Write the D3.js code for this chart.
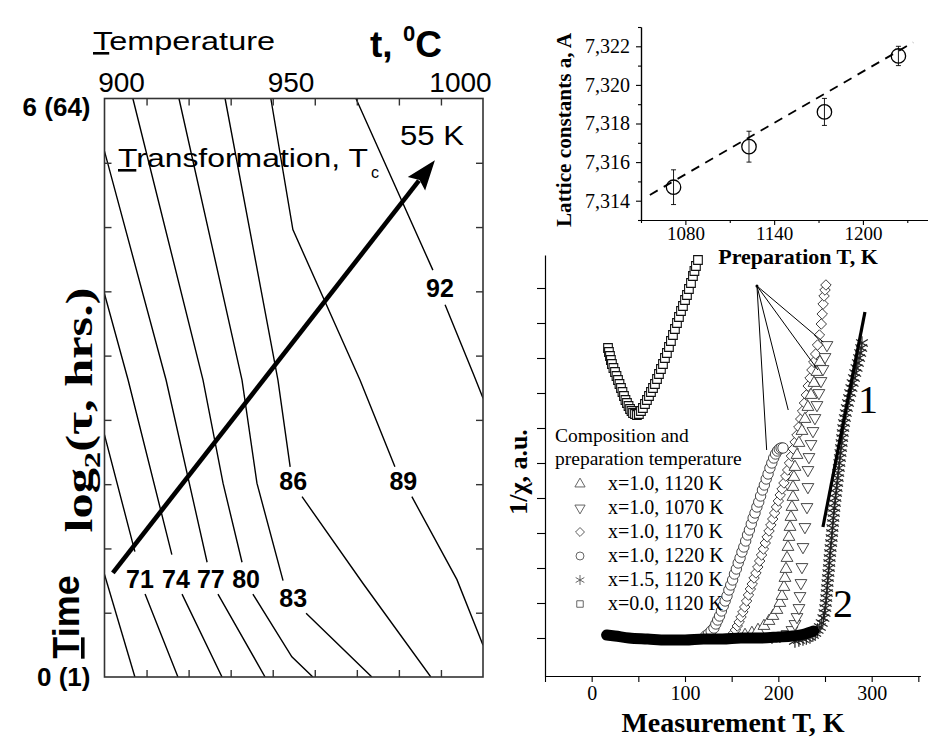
<!DOCTYPE html>
<html>
<head>
<meta charset="utf-8">
<script src="https://cdn.jsdelivr.net/npm/d3@7/dist/d3.min.js"></script>
<style>
html,body{margin:0;padding:0;background:#fff;}
svg{display:block;}
</style>
</head>
<body>
<svg id="chart" width="928" height="742"></svg>
<script>
// ================= DATA =================
// ---- Left panel: Tc contour lines (temperature, °C ; log2 of time in hours) ----
const tempTicks = [900, 950, 1000];
const timeTicks = [0, 6];
const timeTickLabels = ["0 (1)", "6 (64)"];
const frameTicks = [1, 2, 3, 4, 5, 6, 7, 8];
const contourLabels = [71, 74, 77, 80, 83, 86, 89, 92];
const contourLabelT = [905.6, 916.2, 926.5, 936.9, 950.8, 950.8, 983.3, 994.1];
const contourLabelL = [1.02, 1.02, 1.02, 1.02, 0.82, 2.03, 2.03, 4.03];
const contour68 = [[895.0,1.08],[904.1,0]];
const contour71 = [[895.0,2.53],[904.1,1.30],null,[907.1,0.86],[916.8,0]];
const contour74 = [[895.0,3.99],[902.1,3.08],[915.0,1.27],null,[918.0,0.86],[929.8,0]];
const contour77 = [[895.0,5.47],[913.3,3.08],[925.4,1.19],null,[928.6,0.86],[942.5,0]];
const contour80 = [[903.5,6],[924.2,3.08],[930.1,2.01],[935.7,1.19],null,[938.9,0.86],[950.4,0.21],[956.6,0]];
const contour83 = [[917.1,6],[935.7,3.08],[940.1,2.01],[947.8,1.0],null,[954.6,0.66],[974.0,0]];
const contour86 = [[930.7,6],[946.3,3.08],[949.9,2.18],null,[953.4,1.87],[971.4,0.97],[991.4,0]];
const contour89 = [[944.2,6],[950.7,4.64],[970.5,3.08],[980.8,2.18],null,[985.8,1.87],[999.1,1.01],[1006.8,0.33]];
const contour92 = [[969.3,6],[992.0,4.22],null,[995.6,3.86],[1004.1,3.13],[1006.8,2.89]];
const arrowStart = [897.6, 1.08];
const arrowEnd = [992.6, 5.36];

// ---- Top-right panel: lattice constant vs preparation temperature ----
const prepTicks = [1080, 1140, 1200];
const prepMinor = [1050, 1110, 1170, 1230];
const latticeTicks = [7.314, 7.316, 7.318, 7.320, 7.322];
const latticeMinor = [7.313, 7.315, 7.317, 7.319, 7.321, 7.323];
const prepT = [1072, 1123, 1174, 1224];
const latticeA = [7.3147, 7.3168, 7.3186, 7.3215];
const latticeErr = [0.0009, 0.0008, 0.0007, 0.0005];
const fitT = [1056, 1234];
const fitA = [7.3143, 7.3222];

// ---- Bottom-right panel: 1/chi (a.u.) vs measurement temperature (K) ----
const measTicks = [0, 100, 200, 300];
const measMinor = [-50, 50, 150, 250, 350];
const chiTicks = [38, 73, 108, 143, 178, 213, 248, 283, 318, 353, 388];
const legendLabels = ["x=1.0, 1120 K", "x=1.0, 1070 K", "x=1.0, 1170 K", "x=1.0, 1220 K", "x=1.5, 1120 K", "x=0.0, 1120 K"];
const seriesUp1120 = [[164.3,41],[171.7,43],[178.2,46],[184.6,50],[190.0,55],[194.2,60],[198.5,66],[201.7,73],[203.9,80],[206.0,89],[207.1,98],[208.2,107],[209.3,118],[210.3,129],[211.4,139],[212.5,149],[213.5,159],[214.6,169],[215.7,179],[215.7,189],[216.7,199],[217.8,209],[220.0,221],[222.1,233],[225.3,245],[228.5,257],[231.7,269],[235.0,281],[238.2,293],[241.4,304],[244.6,314]];
const seriesDown1070 = [[193.2,39],[201.7,40],[209.3,42],[214.6,46],[217.8,52],[220.0,59],[222.1,68],[223.2,80],[224.2,93],[225.3,109],[226.4,129],[228.5,149],[230.7,169],[231.7,189],[231.7,206],[232.8,219],[235.0,232],[237.1,245],[239.2,258],[241.4,271],[243.5,283],[245.7,295],[247.8,307],[250.0,319],[252.1,331]];
const seriesDiamond1170 = [[150,40],[152,43],[154,46],[156,50],[158,54],[160,59],[162,64],[164,69],[166,75],[168,81],[170,87],[172,92],[174,98],[176,103],[178,109],[180,115],[182,121],[184,127],[186,133],[188,139],[190,145],[192,151],[194,157],[196,163],[198,169],[200,175],[202,181],[204,187],[206,193],[208,200],[210,206],[212,213],[214,220],[216,227],[218,234],[220,241],[222,249],[224,257],[226,265],[228,273],[230,281],[232,290],[234,298],[236,306],[238,314],[240,322],[242,331],[244,341],[246,352],[247,362],[248,372],[249,380],[250,386],[251,391]];
const seriesCircle1220 = [[122,40],[125,42],[128,45],[131,48],[133,52],[135,56],[137,60],[139,65],[141,70],[143,75],[145,80],[147,86],[149,91],[151,96],[153,102],[155,107],[157,113],[159,118],[161,124],[163,129],[165,135],[167,141],[169,146],[171,152],[173,158],[175,163],[177,169],[179,174],[181,180],[183,186],[185,191],[187,197],[189,202],[191,208],[193,213],[195,218],[197,222],[199,225],[201,227],[203,228],[205,228]];
const seriesStar1120 = [[217.8,35],[222,36],[226.4,37],[230,38],[233.9,39],[237,41],[239.5,43],[242,46],[244.5,49],[246.5,53],[248.3,58],[249.5,63],[250.3,68],[250.9,73],[251.4,78],[251.9,83],[252.3,88],[252.7,93],[253.2,98],[253.7,103],[254.2,108],[254.6,113],[255.0,118],[255.5,123],[256.0,128],[256.6,133],[257.1,138],[257.6,143],[258.0,148],[258.5,153],[259.0,158],[259.5,163],[260.0,168],[260.6,173],[261.2,178],[261.8,183],[262.4,188],[263.0,193],[263.6,198],[264.2,203],[264.8,208],[265.4,213],[266.0,218],[266.6,223],[267.2,228],[267.8,233],[268.4,238],[269.0,243],[269.6,248],[270.4,253],[271.3,258],[272.3,263],[273.4,268],[274.6,273],[275.8,278],[277.0,283],[278.3,288],[279.6,293],[281.0,298],[282.4,303],[283.8,308],[285.2,313],[286.5,318],[287.7,323],[288.8,328],[289.6,333]];
const seriesSquare0 = [[17.5,328],[18.5,324],[19.6,320],[20.6,316],[21.7,312],[23.3,308],[25.0,304],[26.6,300],[28.2,296],[29.8,292],[31.4,288],[33.0,284],[34.6,280],[36.2,276],[37.8,273],[39.5,270],[41.1,267],[42.7,265],[44.3,263],[46.4,262],[48.5,261],[50.6,262],[52.8,265],[54.9,268],[57.1,272],[59.2,276],[61.4,280],[63.5,284],[65.7,288],[67.8,292],[70.0,297],[72.1,302],[74.2,307],[76.4,312],[78.5,318],[80.6,323],[82.8,329],[84.9,335],[87.1,341],[89.2,347],[91.4,353],[93.5,359],[95.7,365],[97.8,370],[100.0,376],[102.1,381],[104.2,387],[106.4,393],[108.5,400],[110.1,405],[111.7,410],[113.9,416]];
const baselineBand = [[16,41],[25,40],[40,38],[60,37],[80,36],[100,36],[120,37],[140,37],[160,38],[180,38],[200,39],[215,40],[228,42],[238,45]];
const leaderOrigin = [177.1, 390];
const leaderEnds = [[248.1,334],[242.4,306],[210.6,266],[187.5,226]];
const fitLine1 = [[247.8,149],[292.8,364]];

// ================= DRAWING =================
const svg = d3.select("#chart");
const SANS = "'Liberation Sans', Arial, Helvetica, sans-serif";
const SERIF = "'Liberation Serif', 'Times New Roman', Times, serif";
const defs = svg.append("defs");
const intFmt = d3.format("d");

// ---------- LEFT PANEL ----------
const tX = d3.scaleLinear().domain([900, 1000]).range([121, 460]);
const lY = d3.scaleLinear().domain([0, 6]).range([677, 98.5]);
const fX = d3.scaleLinear().domain([0, 9]).range([104.5, 483]);
const fY = d3.scaleLinear().domain([0, 9]).range([677, 98.5]);

defs.append("clipPath").attr("id", "clipLeft").append("rect")
  .attr("x", fX(0)).attr("y", fY(9)).attr("width", fX(9) - fX(0)).attr("height", fY(0) - fY(9));

const L = svg.append("g");
const cLine = d3.line().defined(d => d !== null).x(d => tX(d[0])).y(d => lY(d[1]));
[contour68, contour71, contour74, contour77, contour80, contour83, contour86, contour89, contour92].forEach(c => {
  L.append("path").attr("d", cLine(c)).attr("fill", "none").attr("stroke", "#000")
    .attr("stroke-width", 1.4).attr("clip-path", "url(#clipLeft)");
});

L.append("rect").attr("x", fX(0)).attr("y", fY(9)).attr("width", fX(9) - fX(0)).attr("height", fY(0) - fY(9))
  .attr("fill", "none").attr("stroke", "#333").attr("stroke-width", 1.6);

const tickStyle = g => { g.select(".domain").remove(); g.selectAll("line").attr("stroke", "#333").attr("stroke-width", 1.4); };
L.append("g").attr("transform", `translate(0,${fY(9)})`).call(d3.axisTop(fX).tickValues(frameTicks).tickSize(-7).tickFormat(() => "")).call(tickStyle);
L.append("g").attr("transform", `translate(0,${fY(0)})`).call(d3.axisBottom(fX).tickValues(frameTicks).tickSize(-7).tickFormat(() => "")).call(tickStyle);
L.append("g").attr("transform", `translate(${fX(0)},0)`).call(d3.axisLeft(fY).tickValues(frameTicks).tickSize(-7).tickFormat(() => "")).call(tickStyle);
L.append("g").attr("transform", `translate(${fX(9)},0)`).call(d3.axisRight(fY).tickValues(frameTicks).tickSize(-7).tickFormat(() => "")).call(tickStyle);

const topAx = L.append("g").attr("transform", `translate(0,${fY(9)})`)
  .call(d3.axisTop(tX).tickValues(tempTicks).tickSize(0).tickPadding(7).tickFormat(intFmt));
topAx.select(".domain").remove();
topAx.selectAll("text").attr("font-family", SANS).attr("font-size", 28).attr("fill", "#000");

const leftAx = L.append("g").attr("transform", `translate(${fX(0)},0)`)
  .call(d3.axisLeft(lY).tickValues(timeTicks).tickSize(0).tickPadding(14).tickFormat((d, i) => timeTickLabels[i]));
leftAx.select(".domain").remove();
leftAx.selectAll("text").attr("font-family", SANS).attr("font-size", 26).attr("font-weight", "bold").attr("fill", "#000")
  .attr("dy", d => d === 6 ? "0.65em" : "0.32em");

// contour labels
L.selectAll(".clab").data(contourLabels).join("text")
  .attr("x", (d, i) => tX(contourLabelT[i])).attr("y", (d, i) => lY(contourLabelL[i]))
  .attr("dy", "0.36em").attr("text-anchor", "middle")
  .attr("font-family", SANS).attr("font-size", 25).attr("font-weight", "bold").text(d => d);

// arrow
const ax0 = tX(arrowStart[0]), ay0 = lY(arrowStart[1]), ax1 = tX(arrowEnd[0]), ay1 = lY(arrowEnd[1]);
const alen = Math.hypot(ax1 - ax0, ay1 - ay0);
const ux = (ax1 - ax0) / alen, uy = (ay1 - ay0) / alen;
const headLen = 30, headW = 11;
L.append("line").attr("x1", ax0).attr("y1", ay0).attr("x2", ax1 - ux * (headLen - 4)).attr("y2", ay1 - uy * (headLen - 4))
  .attr("stroke", "#000").attr("stroke-width", 4.6);
const bx = ax1 - ux * headLen, by = ay1 - uy * headLen;
L.append("path").attr("d", `M${ax1},${ay1}L${bx - uy * headW},${by + ux * headW}L${ax1 - ux * (headLen - 5)},${ay1 - uy * (headLen - 5)}L${bx + uy * headW},${by - ux * headW}Z`)
  .attr("fill", "#000");

L.append("text").attr("x", 400).attr("y", 145).attr("font-family", SANS).attr("font-size", 28)
  .attr("textLength", 64).attr("lengthAdjust", "spacingAndGlyphs").text("55 K");

const trans = L.append("text").attr("x", 118).attr("y", 167).attr("font-family", SANS).attr("font-size", 26)
  .attr("textLength", 250).attr("lengthAdjust", "spacingAndGlyphs");
trans.append("tspan").style("text-decoration", "underline").text("T");
trans.append("tspan").text("ransformation, T");
L.append("text").attr("x", 371).attr("y", 178).attr("font-family", SANS).attr("font-size", 16).text("c");

// titles
const tempT = svg.append("text").attr("x", 93).attr("y", 50).attr("font-family", SANS).attr("font-size", 26)
  .attr("textLength", 182).attr("lengthAdjust", "spacingAndGlyphs");
tempT.append("tspan").style("text-decoration", "underline").text("T");
tempT.append("tspan").text("emperature");

const tC = svg.append("text").attr("x", 370).attr("y", 57).attr("font-family", SANS).attr("font-weight", "bold").attr("font-size", 37);
tC.append("tspan").text("t, ");
tC.append("tspan").attr("font-size", 22).attr("dy", -16).text("0");
tC.append("tspan").attr("dy", 16).text("C");

const logT = svg.append("text").attr("transform", "translate(92,410) rotate(-90)").attr("text-anchor", "middle")
  .attr("font-family", SERIF).attr("font-weight", "bold").attr("font-size", 37)
  .attr("textLength", 245).attr("lengthAdjust", "spacingAndGlyphs");
logT.append("tspan").text("log");
logT.append("tspan").attr("font-size", 24).attr("dy", 8).text("2");
logT.append("tspan").attr("dy", -8).text("(τ, hrs.)");

const timeT = svg.append("text").attr("transform", "translate(79,617) rotate(-90)").attr("text-anchor", "middle")
  .attr("font-family", SANS).attr("font-weight", "bold").attr("font-size", 36);
timeT.append("tspan").style("text-decoration", "underline").text("T");
timeT.append("tspan").text("ime");

// ---------- TOP-RIGHT PANEL ----------
const pX = d3.scaleLinear().domain([1050, 1244]).range([641, 928]);
const pY = d3.scaleLinear().domain([7.313, 7.323]).range([220, 27]);
const P = svg.append("g");
const styleAx = (g, fs) => {
  g.select(".domain").attr("stroke", "#000").attr("stroke-width", 1.2);
  g.selectAll("line").attr("stroke", "#000").attr("stroke-width", 1.1);
  g.selectAll("text").attr("font-family", SERIF).attr("font-size", fs).attr("fill", "#000");
};
P.append("g").attr("transform", "translate(0,220)").call(d3.axisBottom(pX).tickValues(prepMinor).tickSize(3).tickSizeOuter(0).tickFormat(() => "")).call(g => styleAx(g, 19));
P.append("g").attr("transform", "translate(0,220)").call(d3.axisBottom(pX).tickValues(prepTicks).tickSize(5).tickSizeOuter(0).tickPadding(2).tickFormat(intFmt)).call(g => styleAx(g, 19));
P.append("g").attr("transform", "translate(641,0)").call(d3.axisLeft(pY).tickValues(latticeMinor).tickSize(3).tickSizeOuter(0).tickFormat(() => "")).call(g => styleAx(g, 19));
P.append("g").attr("transform", "translate(641,0)").call(d3.axisLeft(pY).tickValues(latticeTicks).tickSize(5).tickSizeOuter(0).tickPadding(6).tickFormat(d => d.toFixed(3).replace(".", ","))).call(g => styleAx(g, 20));

P.append("path").attr("d", d3.line().x(d => pX(d[0])).y(d => pY(d[1]))(fitT.map((t, i) => [t, fitA[i]])))
  .attr("fill", "none").attr("stroke", "#000").attr("stroke-width", 1.8).attr("stroke-dasharray", "9,7");
prepT.forEach((t, i) => {
  const x = pX(t);
  P.append("line").attr("x1", x).attr("x2", x).attr("y1", pY(latticeA[i] - latticeErr[i])).attr("y2", pY(latticeA[i] + latticeErr[i]))
    .attr("stroke", "#000").attr("stroke-width", 0.9);
  [latticeA[i] - latticeErr[i], latticeA[i] + latticeErr[i]].forEach(v => {
    P.append("line").attr("x1", x - 2.5).attr("x2", x + 2.5).attr("y1", pY(v)).attr("y2", pY(v)).attr("stroke", "#000").attr("stroke-width", 0.9);
  });
  P.append("circle").attr("cx", x).attr("cy", pY(latticeA[i])).attr("r", 7.2).attr("fill", "none").attr("stroke", "#000").attr("stroke-width", 1.3);
});
P.append("text").attr("x", 798).attr("y", 264).attr("text-anchor", "middle").attr("font-family", SERIF)
  .attr("font-weight", "bold").attr("font-size", 22).text("Preparation T, K");
P.append("text").attr("transform", "translate(571,130) rotate(-90)").attr("text-anchor", "middle").attr("font-family", SERIF)
  .attr("font-weight", "bold").attr("font-size", 21).attr("textLength", 194).attr("lengthAdjust", "spacingAndGlyphs")
  .text("Lattice constants a, A");

// ---------- BOTTOM-RIGHT PANEL ----------
const mX = d3.scaleLinear().domain([-50, 352]).range([545, 920.2]);
const mY = d3.scaleLinear().domain([0, 421]).range([676, 255]);
const M = svg.append("g");
M.append("g").attr("transform", "translate(0,676)").call(d3.axisBottom(mX).tickValues(measMinor).tickSize(6).tickSizeOuter(0).tickFormat(() => "")).call(g => styleAx(g, 20));
M.append("g").attr("transform", "translate(0,676)").call(d3.axisBottom(mX).tickValues(measTicks).tickSize(6).tickSizeOuter(0).tickPadding(4).tickFormat(intFmt)).call(g => styleAx(g, 20));
M.append("g").attr("transform", "translate(545,0)").call(d3.axisLeft(mY).tickValues(chiTicks).tickSize(8).tickSizeOuter(0).tickFormat(() => "")).call(g => styleAx(g, 20));

const symAst = d3.symbolAsterisk || d3.symbolCross;
const seriesDefs = [
  { data: seriesSquare0, type: d3.symbolSquare, size: 75, rot: 0, fill: "#fff", stroke: "#111", sw: 1.1 },
  { data: seriesCircle1220, type: d3.symbolCircle, size: 85, rot: 0, fill: "#fff", stroke: "#333", sw: 0.9 },
  { data: seriesDiamond1170, type: d3.symbolSquare, size: 55, rot: 45, fill: "#fff", stroke: "#333", sw: 0.9 },
  { data: seriesUp1120, type: d3.symbolTriangle, size: 60, rot: 0, fill: "#fff", stroke: "#333", sw: 0.9 },
  { data: seriesDown1070, type: d3.symbolTriangle, size: 60, rot: 180, fill: "#fff", stroke: "#333", sw: 0.9 },
  { data: seriesStar1120, type: symAst, size: 130, rot: 0, fill: "none", stroke: "#222", sw: 1.2 }
];
seriesDefs.forEach(s => {
  const sym = d3.symbol().type(s.type).size(s.size)();
  M.append("g").selectAll("path").data(s.data).join("path")
    .attr("d", sym)
    .attr("transform", d => `translate(${mX(d[0])},${mY(d[1])}) rotate(${s.rot})`)
    .attr("fill", s.fill).attr("stroke", s.stroke).attr("stroke-width", s.sw);
});
// dense baseline where all curves overlap
M.append("path").attr("d", d3.line().curve(d3.curveMonotoneX).x(d => mX(d[0])).y(d => mY(d[1]))(baselineBand))
  .attr("fill", "none").attr("stroke", "#000").attr("stroke-width", 11).attr("stroke-linecap", "round");

// leader lines
leaderEnds.forEach(e => {
  M.append("line").attr("x1", mX(leaderOrigin[0])).attr("y1", mY(leaderOrigin[1])).attr("x2", mX(e[0])).attr("y2", mY(e[1]))
    .attr("stroke", "#000").attr("stroke-width", 1);
});
M.append("circle").attr("cx", mX(leaderOrigin[0])).attr("cy", mY(leaderOrigin[1])).attr("r", 1.5).attr("fill", "#000");
M.append("path").attr("d", d3.line().x(d => mX(d[0])).y(d => mY(d[1]))(fitLine1)).attr("stroke", "#000").attr("stroke-width", 3.2);
M.append("text").attr("x", 868).attr("y", 413).attr("text-anchor", "middle").attr("font-family", SERIF).attr("font-size", 40).text("1");
M.append("text").attr("x", 843).attr("y", 617).attr("text-anchor", "middle").attr("font-family", SERIF).attr("font-size", 40).text("2");

// legend
M.append("text").attr("x", 555).attr("y", 442).attr("font-family", SERIF).attr("font-size", 19.5).text("Composition and");
M.append("text").attr("x", 555).attr("y", 465).attr("font-family", SERIF).attr("font-size", 19.5).text("preparation temperature");
const legSyms = [
  { type: d3.symbolTriangle, rot: 0, size: 45 },
  { type: d3.symbolTriangle, rot: 180, size: 45 },
  { type: d3.symbolSquare, rot: 45, size: 40 },
  { type: d3.symbolCircle, rot: 0, size: 50 },
  { type: symAst, rot: 0, size: 70 },
  { type: d3.symbolSquare, rot: 0, size: 42 }
];
legendLabels.forEach((lab, i) => {
  const y = 490 + i * 24;
  M.append("path").attr("d", d3.symbol().type(legSyms[i].type).size(legSyms[i].size)())
    .attr("transform", `translate(580,${y - 6}) rotate(${legSyms[i].rot})`)
    .attr("fill", "none").attr("stroke", "#555").attr("stroke-width", 0.9);
  M.append("text").attr("x", 608).attr("y", y).attr("font-family", SERIF).attr("font-size", 20).text(lab);
});

M.append("text").attr("x", 733).attr("y", 732).attr("text-anchor", "middle").attr("font-family", SERIF)
  .attr("font-weight", "bold").attr("font-size", 28).text("Measurement T, K");
M.append("text").attr("transform", "translate(527,472) rotate(-90)").attr("text-anchor", "middle").attr("font-family", SERIF)
  .attr("font-weight", "bold").attr("font-size", 26).text("1/χ, a.u.");
</script>
</body>
</html>
